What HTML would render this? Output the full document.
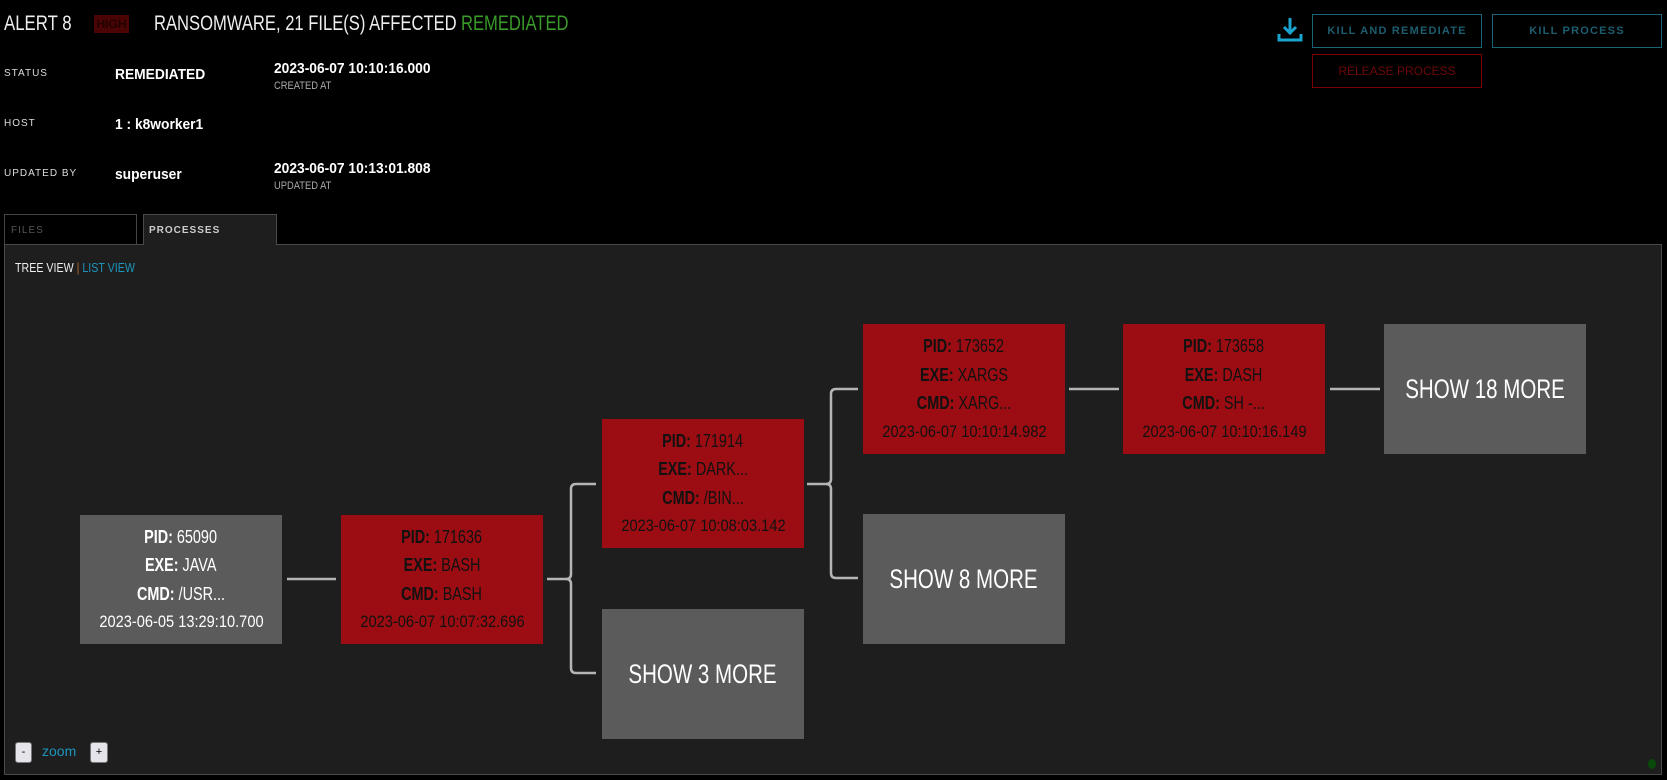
<!DOCTYPE html>
<html><head><meta charset="utf-8"><style>
*{margin:0;padding:0;box-sizing:border-box}
body{width:1667px;height:780px;background:#000;position:relative;overflow:hidden;font-family:"Liberation Sans",sans-serif;color:#fff}
.a{position:absolute;white-space:nowrap}
.c{transform-origin:left center;display:inline-block}
.lbl{font-size:10px;letter-spacing:1px;color:#ddd}
.val{font-weight:bold;font-size:15px;color:#fff;transform:scaleX(.92);transform-origin:left center}
.sub{font-size:11px;color:#aaa;transform:scaleX(.85);transform-origin:left center}
.btn{position:absolute;border:1px solid #1b6478;color:#1d5d70;font-size:11px;letter-spacing:1.2px;font-weight:bold;display:flex;align-items:center;justify-content:center}
.node{position:absolute;width:202px;height:129px;display:flex;flex-direction:column;align-items:center;justify-content:center;text-align:center}
.node>div{font-size:18px;line-height:28.5px;transform:scaleX(.8);white-space:nowrap}
.red{background:#9b0d12;color:#111}
.gray{background:#5b5b5b;color:#fff}
.node b{font-weight:bold}
.node>div.d{font-size:17px;transform:scaleX(.86)}
.node>div.more{font-size:27px;transform:scaleX(.76)}
</style></head><body>
<div class="a c" style="left:4px;top:12px;font-size:21px;color:#eee;transform:scaleX(.8)">ALERT 8</div>
<div class="a" style="left:94px;top:15px;width:35px;height:18px;background:#4a0404;color:#200;font-size:12px;font-weight:bold;text-align:center;line-height:18px">HIGH</div>
<div class="a c" style="left:154px;top:12px;font-size:21px;color:#eee;transform:scaleX(.79)">RANSOMWARE, 21 FILE(S) AFFECTED</div>
<div class="a c" style="left:461px;top:12px;font-size:21px;color:#3a9a2a;transform:scaleX(.79)">REMEDIATED</div>

<div class="a lbl" style="left:4px;top:68px">STATUS</div>
<div class="a val" style="left:115px;top:66px">REMEDIATED</div>
<div class="a val" style="left:274px;top:60px">2023-06-07 10:10:16.000</div>
<div class="a sub" style="left:274px;top:80px">CREATED AT</div>
<div class="a lbl" style="left:4px;top:118px">HOST</div>
<div class="a val" style="left:115px;top:116px">1 : k8worker1</div>
<div class="a lbl" style="left:4px;top:168px">UPDATED BY</div>
<div class="a val" style="left:115px;top:166px">superuser</div>
<div class="a val" style="left:274px;top:160px">2023-06-07 10:13:01.808</div>
<div class="a sub" style="left:274px;top:180px">UPDATED AT</div>

<svg class="a" style="left:1276px;top:16px" width="28" height="28" viewBox="0 0 28 28"><path d="M14 2v15M8 11l6 6 6-6M3 18v6h22v-6" fill="none" stroke="#1ba4d0" stroke-width="3"/></svg>
<div class="btn" style="left:1312px;top:14px;width:170px;height:34px">KILL AND REMEDIATE</div>
<div class="btn" style="left:1492px;top:14px;width:170px;height:34px">KILL PROCESS</div>
<div class="btn" style="left:1312px;top:54px;width:170px;height:34px;border-color:#7a0000;color:#6e0808;font-weight:normal;letter-spacing:0;font-size:12px">RELEASE PROCESS</div>

<div class="a" style="left:4px;top:214px;width:133px;height:31px;border:1px solid #444;border-bottom:none;font-size:10px;letter-spacing:1px;color:#555;padding:10px 0 0 6px">FILES</div>
<div class="a" style="left:4px;top:244px;width:1658px;height:531px;background:#1e1e1e;border:1px solid #4a4a4a"></div>
<div class="a" style="left:143px;top:214px;width:134px;height:31px;border:1px solid #4a4a4a;border-bottom:none;background:#1e1e1e;font-size:10px;letter-spacing:1px;color:#ccc;font-weight:bold;padding:10px 0 0 5px">PROCESSES</div>

<div class="a c" style="left:15px;top:260px;font-size:13px;color:#eee;transform:scaleX(.82)">TREE VIEW <span style="color:#b8662a">|</span> <span style="color:#1d95bd">LIST VIEW</span></div>

<svg class="a" style="left:0;top:0" width="1667" height="780">
<g fill="none" stroke="#b5b5b5" stroke-width="2.5">
<path d="M287 579H336"/>
<path d="M547 579H566q5 0 5-5V489q0-5 5-5H596"/>
<path d="M566 579q5 0 5 5V668q0 5 5 5H596"/>
<path d="M807 484H826q5 0 5-5V394q0-5 5-5H858"/>
<path d="M826 484q5 0 5 5V573q0 5 5 5H858"/>
<path d="M1069 389H1119"/>
<path d="M1330 389H1380"/>
</g>
</svg>

<div class="node gray" style="left:80px;top:515px"><div><b>PID:</b> 65090</div><div><b>EXE:</b> JAVA</div><div><b>CMD:</b> /USR...</div><div class="d">2023-06-05 13:29:10.700</div></div>
<div class="node red" style="left:341px;top:515px"><div><b>PID:</b> 171636</div><div><b>EXE:</b> BASH</div><div><b>CMD:</b> BASH</div><div class="d">2023-06-07 10:07:32.696</div></div>
<div class="node red" style="left:602px;top:419px"><div><b>PID:</b> 171914</div><div><b>EXE:</b> DARK...</div><div><b>CMD:</b> /BIN...</div><div class="d">2023-06-07 10:08:03.142</div></div>
<div class="node gray" style="left:602px;top:609px;height:130px"><div class="more">SHOW 3 MORE</div></div>
<div class="node red" style="left:863px;top:324px;height:130px"><div><b>PID:</b> 173652</div><div><b>EXE:</b> XARGS</div><div><b>CMD:</b> XARG...</div><div class="d">2023-06-07 10:10:14.982</div></div>
<div class="node gray" style="left:863px;top:514px;height:130px"><div class="more">SHOW 8 MORE</div></div>
<div class="node red" style="left:1123px;top:324px;height:130px"><div><b>PID:</b> 173658</div><div><b>EXE:</b> DASH</div><div><b>CMD:</b> SH -...</div><div class="d">2023-06-07 10:10:16.149</div></div>
<div class="node gray" style="left:1384px;top:324px;height:130px"><div class="more">SHOW 18 MORE</div></div>

<div class="a" style="left:15px;top:742px;width:17px;height:21px;background:#e4e4ea;border:1px solid #777;border-radius:3px;color:#000;font-size:11px;text-align:center;line-height:19px">-</div>
<div class="a" style="left:42px;top:743px;font-size:14px;color:#1d95bd">zoom</div>
<div class="a" style="left:90px;top:742px;width:18px;height:21px;background:#e4e4ea;border:1px solid #777;border-radius:3px;color:#000;font-size:11px;text-align:center;line-height:19px">+</div>
<div class="a" style="left:1648px;top:759px;width:8px;height:10px;border-radius:50%;background:#0a4a0a"></div>
</body></html>
